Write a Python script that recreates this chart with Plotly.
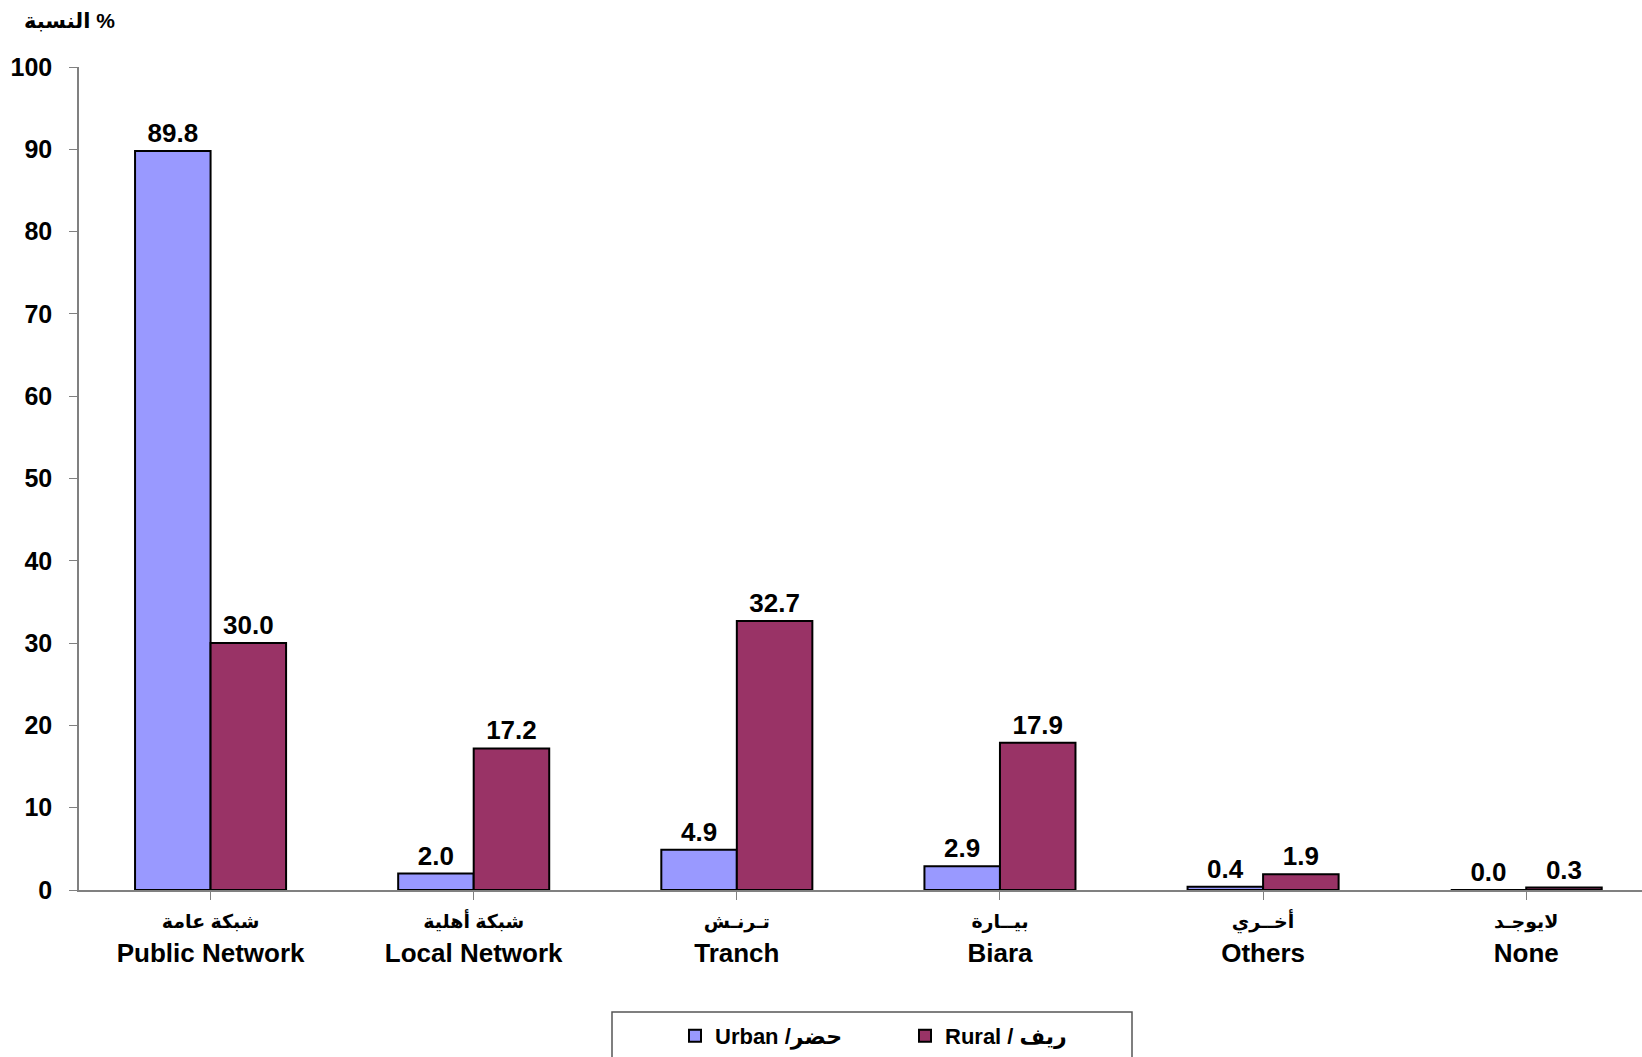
import plotly.graph_objects as go

categories_ar = ["شبكة عامة", "شبكة أهلية", "تـرنـش", "بيــارة", "أخــري", "لايوجـد"]
categories_en = ["Public Network", "Local Network", "Tranch", "Biara", "Others", "None"]
urban = [89.8, 2.0, 4.9, 2.9, 0.4, 0.0]
rural = [30.0, 17.2, 32.7, 17.9, 1.9, 0.3]
urban_name = "Urban /حضر"
rural_name = "Rural / ريف"
y_ticks = list(range(0, 101, 10))

FONT = "Liberation Sans, Arial, DejaVu Sans, sans-serif"
W, H = 1642, 1057
L, T, B = 79, 67, 890

x = list(range(len(categories_en)))
ticktext = [f"<span style='font-size:19px'>{a}</span><br>{e}" for a, e in zip(categories_ar, categories_en)]

fig = go.Figure()
fig.add_bar(x=x, y=urban, name=urban_name,
            marker=dict(color="#9999FF", line=dict(color="black", width=2)),
            text=[f"{v:.1f}" for v in urban], textposition="outside",
            textfont=dict(family=FONT, size=26, color="black", weight="bold"),
            cliponaxis=False)
fig.add_bar(x=x, y=rural, name=rural_name,
            marker=dict(color="#993366", line=dict(color="black", width=2)),
            text=[f"{v:.1f}" for v in rural], textposition="outside",
            textfont=dict(family=FONT, size=26, color="black", weight="bold"),
            cliponaxis=False)

def px(xp):
    return (xp - L) / (W - L)

def py(yp):
    return (B - yp) / (B - T)

fig.update_layout(
    width=W, height=H,
    margin=dict(l=L, r=0, t=T, b=H - B, pad=0),
    paper_bgcolor="white", plot_bgcolor="white",
    barmode="group", bargap=0.426, bargroupgap=0,
    font=dict(family=FONT, color="black"),
    showlegend=True,
    legend=dict(orientation="h", x=px(675), xanchor="left", y=py(1036), yanchor="middle",
                entrywidth=185, entrywidthmode="pixels",
                font=dict(family=FONT, size=22, color="black", weight="bold"),
                bgcolor="rgba(0,0,0,0)", borderwidth=0, traceorder="normal"),
    xaxis=dict(tickmode="array", tickvals=x, ticktext=ticktext,
               range=[-0.5, 5.44], showline=True, linecolor="#808080", linewidth=1.5,
               ticks="outside", tickson="boundaries", ticklen=8, tickcolor="#808080",
               showgrid=False, zeroline=False, ticklabelstandoff=-3,
               tickfont=dict(family=FONT, size=26, color="black", weight="bold")),
    yaxis=dict(range=[0, 100], tickmode="array", tickvals=y_ticks,
               showline=True, linecolor="#808080", linewidth=1.5,
               ticks="outside", ticklen=8, tickcolor="#808080",
               showgrid=False, zeroline=False, ticklabelstandoff=12,
               tickfont=dict(family=FONT, size=25, color="black", weight="bold")),
    shapes=[dict(type="rect", xref="paper", yref="paper",
                 x0=px(612), x1=px(1132), y0=py(1012), y1=py(1080),
                 line=dict(color="#555555", width=1.5), fillcolor="rgba(0,0,0,0)", layer="below")],
    annotations=[dict(text="النسبة %", xref="paper", yref="paper", x=px(22), y=py(21),
                      xanchor="left", yanchor="middle", showarrow=False,
                      font=dict(family=FONT, size=21, color="black", weight="bold"))],
)

fig.write_html("out.html", config={"displayModeBar": False},
               post_script="document.body.style.margin='0';document.body.style.overflow='hidden';")
